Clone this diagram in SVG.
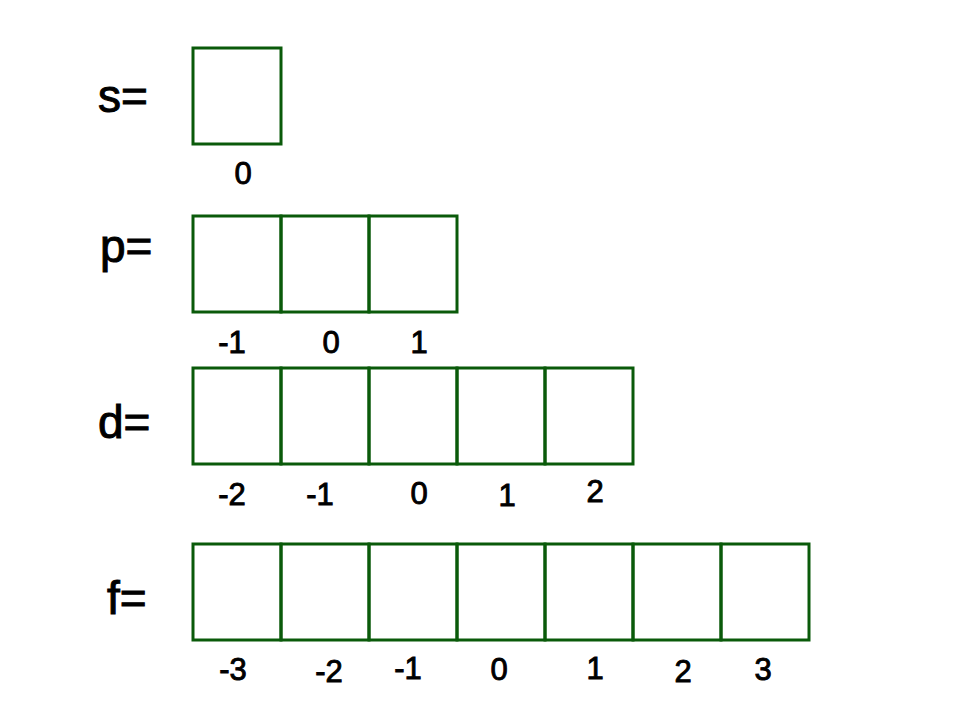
<svg xmlns="http://www.w3.org/2000/svg" width="960" height="720" viewBox="0 0 960 720">
<style>
.box{fill:none;stroke:#0a5a0a;stroke-width:3}
.lbl{font-family:"Liberation Sans",Arial,sans-serif;font-size:46px;fill:#000;stroke:#000;stroke-width:1}
.num{font-family:"Liberation Sans",Arial,sans-serif;font-size:31px;fill:#000;stroke:#000;stroke-width:0.9;text-anchor:middle}
</style>
<rect width="960" height="720" fill="#ffffff"/>
<g id="row-s">
<text class="lbl" x="98" y="112">s=</text>
<rect class="box" x="193" y="48" width="88" height="96"/>
<text class="num" x="243" y="184">0</text>
</g>
<g id="row-p">
<text class="lbl" x="100" y="262">p=</text>
<rect class="box" x="193" y="216" width="88" height="96"/>
<rect class="box" x="281" y="216" width="88" height="96"/>
<rect class="box" x="369" y="216" width="88" height="96"/>
<text class="num" x="232" y="353">-1</text>
<text class="num" x="331" y="353">0</text>
<text class="num" x="419" y="353">1</text>
</g>
<g id="row-d">
<text class="lbl" x="98" y="438">d=</text>
<rect class="box" x="193" y="368" width="88" height="96"/>
<rect class="box" x="281" y="368" width="88" height="96"/>
<rect class="box" x="369" y="368" width="88" height="96"/>
<rect class="box" x="457" y="368" width="88" height="96"/>
<rect class="box" x="545" y="368" width="88" height="96"/>
<text class="num" x="232" y="505">-2</text>
<text class="num" x="320" y="505">-1</text>
<text class="num" x="419" y="504">0</text>
<text class="num" x="507" y="506">1</text>
<text class="num" x="595" y="502">2</text>
</g>
<g id="row-f">
<text class="lbl" x="107" y="614">f=</text>
<rect class="box" x="193" y="544" width="88" height="96"/>
<rect class="box" x="281" y="544" width="88" height="96"/>
<rect class="box" x="369" y="544" width="88" height="96"/>
<rect class="box" x="457" y="544" width="88" height="96"/>
<rect class="box" x="545" y="544" width="88" height="96"/>
<rect class="box" x="633" y="544" width="88" height="96"/>
<rect class="box" x="721" y="544" width="88" height="96"/>
<text class="num" x="233" y="680">-3</text>
<text class="num" x="329" y="682">-2</text>
<text class="num" x="408" y="679">-1</text>
<text class="num" x="499" y="680">0</text>
<text class="num" x="595" y="679">1</text>
<text class="num" x="683" y="682">2</text>
<text class="num" x="763" y="680">3</text>
</g>
<g id="connectors"></g>
</svg>
